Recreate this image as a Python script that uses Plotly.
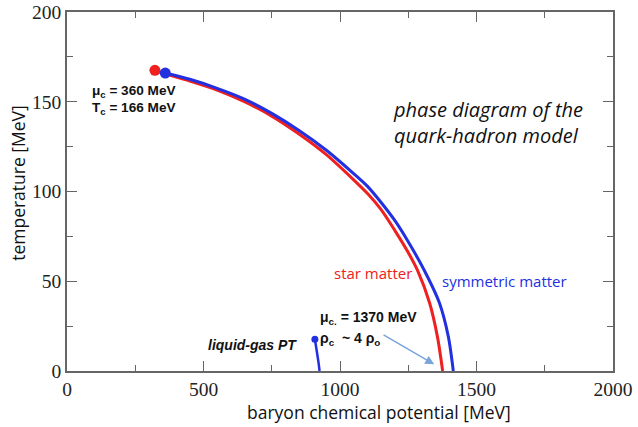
import plotly.graph_objects as go

# Phase boundaries: baryon chemical potential [MeV] vs temperature [MeV]
sym_mu = [360, 450, 550, 650, 750, 850, 950, 1050, 1100, 1150, 1200, 1250, 1309, 1364, 1397, 1415]
sym_T = [166, 162.5, 157.5, 151.5, 143.5, 134, 123, 110, 103, 94, 84, 72, 56, 38, 19, 0]

star_mu = [322, 360, 450, 550, 650, 750, 850, 950, 1050, 1100, 1150, 1200, 1250, 1284, 1328, 1357, 1376]
star_T = [167.5, 165.5, 161.5, 156.5, 150, 142, 132, 120.5, 106.5, 99, 90, 78.5, 66, 56, 38, 19, 0]

lg_mu = [908, 916, 922, 925]
lg_T = [17.7, 10, 4, 0]

x_ticks = [0, 500, 1000, 1500, 2000]
y_ticks = [0, 50, 100, 150, 200]

BLUE = "#2230e0"
RED = "#ee2020"

fig = go.Figure()

# star matter (drawn first, under the symmetric curve)
fig.add_trace(go.Scatter(x=star_mu, y=star_T, mode="lines",
                         line=dict(color=RED, width=3, shape="spline", smoothing=0.8),
                         hoverinfo="skip"))
fig.add_trace(go.Scatter(x=star_mu[:1], y=star_T[:1], mode="markers",
                         marker=dict(color=RED, size=11), hoverinfo="skip"))
# symmetric matter
fig.add_trace(go.Scatter(x=sym_mu, y=sym_T, mode="lines",
                         line=dict(color=BLUE, width=3, shape="spline", smoothing=0.8),
                         hoverinfo="skip"))
fig.add_trace(go.Scatter(x=sym_mu[:1], y=sym_T[:1], mode="markers",
                         marker=dict(color=BLUE, size=11), hoverinfo="skip"))
# liquid-gas transition
fig.add_trace(go.Scatter(x=lg_mu, y=lg_T, mode="lines",
                         line=dict(color=BLUE, width=2.5, shape="spline"),
                         hoverinfo="skip"))
fig.add_trace(go.Scatter(x=lg_mu[:1], y=lg_T[:1], mode="markers",
                         marker=dict(color=BLUE, size=7), hoverinfo="skip"))

bold = dict(family="Liberation Sans, Arial", size=14, color="#111")
bold_s = dict(family="Liberation Sans, Arial", size=13.6, color="#111")
italic = dict(family="Open Sans", size=20, color="#111")
title_font = dict(family="Open Sans", size=17.5, color="#111")

ann = [
    # critical end point of the symmetric-matter line
    dict(x=86, y=155.6, text="<b>μ<sub>c</sub> = 360 MeV</b>", font=bold_s),
    dict(x=86, y=146.3, text="<b>T<sub>c</sub> = 166 MeV</b>", font=bold_s),
    # figure caption
    dict(x=1188, y=138.7, text="<i>phase diagram of the<br>quark-hadron model</i>",
         align="left", font=italic),
    # curve labels
    dict(x=970, y=54.6, text="star matter",
         font=dict(family="Open Sans", size=15, color=RED)),
    dict(x=1368, y=50.3, text="symmetric matter",
         font=dict(family="Open Sans", size=15, color=BLUE)),
    dict(x=510, y=14.5, text="<b><i>liquid-gas PT</i></b>", font=bold),
    # zero-temperature transition
    dict(x=918, y=29.5, text="<b>μ<sub>c.</sub> = 1370 MeV</b>", font=bold),
    dict(x=918, y=17.8, text="<b>ρ<sub>c</sub>  ~ 4 ρ<sub>o</sub></b>", font=bold),
    dict(x=1345, y=3.7, ax=1150, ay=21, axref="x", ayref="y",
         text="", showarrow=True, arrowhead=2, arrowsize=1.2, arrowwidth=1.5,
         arrowcolor="#78a4da"),
]
for a in ann:
    a.setdefault("showarrow", False)
    a.setdefault("xref", "x")
    a.setdefault("yref", "y")
    a.setdefault("xanchor", "left")
    a.setdefault("yanchor", "middle")
    fig.add_annotation(**a)

# axis titles
fig.add_annotation(xref="paper", yref="paper", x=0.571, y=-0.113,
                   text="baryon chemical potential [MeV]", showarrow=False,
                   xanchor="center", yanchor="middle", font=title_font)
fig.add_annotation(xref="paper", yref="paper", x=-0.091, y=0.525,
                   text="temperature [MeV]", showarrow=False, textangle=-90,
                   xanchor="center", yanchor="middle", font=title_font)

axis_common = dict(
    showgrid=False, zeroline=False, showline=True, linecolor="#666", linewidth=1.5,
    mirror="ticks", ticks="inside", ticklen=10, tickcolor="#666", tickwidth=1,
    automargin=False,
    tickfont=dict(family="Liberation Serif, Times New Roman", size=19.5, color="#222"),
)

fig.update_xaxes(range=[0, 2000], tickvals=x_ticks,
                 minor=dict(dtick=250, ticks="inside", ticklen=6, tickcolor="#666"),
                 **axis_common)
fig.update_yaxes(range=[0, 200], tickvals=y_ticks,
                 minor=dict(dtick=25, ticks="inside", ticklen=6, tickcolor="#666"),
                 **axis_common)

fig.update_layout(
    width=638, height=427,
    margin=dict(l=67, r=25, t=12, b=56),
    paper_bgcolor="white", plot_bgcolor="white",
    showlegend=False,
)

fig.write_html("out.html")
